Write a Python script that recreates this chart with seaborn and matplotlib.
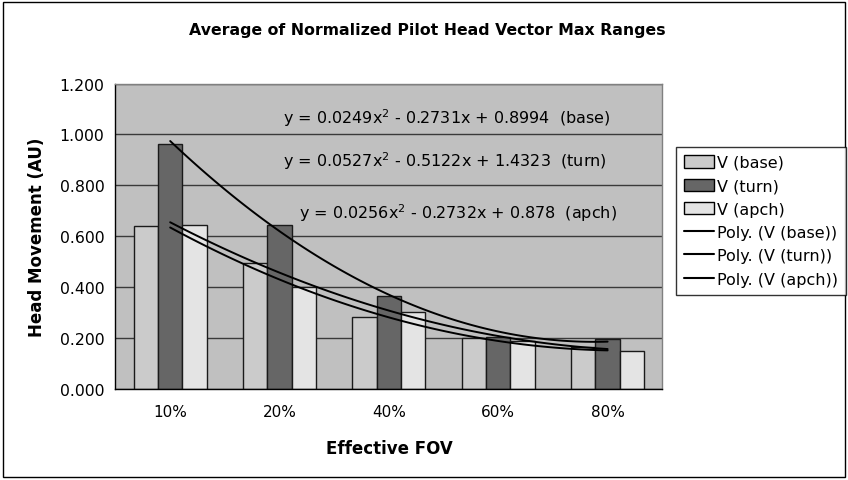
import numpy as np
import pandas as pd
import matplotlib
matplotlib.use("Agg")
import matplotlib.pyplot as plt
import seaborn as sns
from matplotlib.patches import Patch, Rectangle
from matplotlib.lines import Line2D

# ---- data ----
categories = ["10%", "20%", "40%", "60%", "80%"]
series = ["V (base)", "V (turn)", "V (apch)"]
v_base = [0.640, 0.495, 0.284, 0.202, 0.164]
v_turn = [0.962, 0.645, 0.367, 0.205, 0.197]
v_apch = [0.645, 0.402, 0.302, 0.189, 0.148]
y_ticks = [0.0, 0.2, 0.4, 0.6, 0.8, 1.0, 1.2]
equations = [
    r"y = 0.0249x$^2$ - 0.2731x + 0.8994  (base)",
    r"y = 0.0527x$^2$ - 0.5122x + 1.4323  (turn)",
    r"y = 0.0256x$^2$ - 0.2732x + 0.878  (apch)",
]
trend_labels = ["Poly. (V (base))", "Poly. (V (turn))", "Poly. (V (apch))"]

colors = ["#CBCBCB", "#666666", "#E4E4E4"]

sns.set_style("white")
plt.rcParams["font.family"] = ["DejaVu Sans"]
plt.rcParams["mathtext.fontset"] = "dejavusans"
plt.rcParams["text.color"] = "black"
plt.rcParams["axes.labelcolor"] = "black"
plt.rcParams["xtick.color"] = "black"
plt.rcParams["ytick.color"] = "black"

df = pd.DataFrame({
    "FOV": categories * 3,
    "value": v_base + v_turn + v_apch,
    "series": [s for s in series for _ in categories],
})

fig = plt.figure(figsize=(8.48, 4.81), dpi=100)
ax = fig.add_axes([0.1362, 0.1892, 0.6448, 0.6351])
ax.set_facecolor("#C0C0C0")

sns.barplot(data=df, x="FOV", y="value", hue="series", order=categories,
            hue_order=series, palette=colors, width=0.667, gap=0,
            edgecolor="#1a1a1a", linewidth=1.0, ax=ax, legend=False, zorder=2)

xpos = np.arange(len(categories))
for vals in (v_base, v_turn, v_apch):
    sns.regplot(x=xpos, y=np.array(vals), order=2, ci=None, scatter=False,
                color="black", line_kws={"lw": 1.4, "zorder": 4}, ax=ax,
                truncate=True)

ax.set_xlim(-0.5, len(categories) - 0.5)
ax.set_ylim(0, 1.2)
ax.set_yticks(y_ticks)
ax.set_yticklabels([f"{t:.3f}" for t in y_ticks])
ax.yaxis.grid(True, color="#3a3a3a", lw=1.0, zorder=1)
ax.set_axisbelow(True)
ax.set_xticks(xpos)
ax.set_xticklabels(categories)
ax.set_xticks(np.arange(-0.5, len(categories)), minor=True)
ax.tick_params(axis="x", which="major", length=0, pad=11, labelsize=11,
               labelcolor="black")
ax.tick_params(axis="x", which="minor", length=5, width=1, color="black",
               direction="out")
ax.tick_params(axis="y", length=5, width=1, color="black", direction="out",
               labelsize=11.3, pad=3, labelcolor="black")
ax.set_xlabel("Effective FOV", fontsize=12, fontweight="bold", labelpad=14.5,
              color="black")
ax.set_ylabel("Head Movement (AU)", fontsize=12, fontweight="bold", labelpad=10,
              color="black")

for side in ("left", "bottom"):
    ax.spines[side].set_color("black")
    ax.spines[side].set_linewidth(1.0)
for side in ("top", "right"):
    ax.spines[side].set_color("#808080")
    ax.spines[side].set_linewidth(1.0)

# equation labels
eq_pos = [(283, 118), (283, 161), (299, 213)]
for txt, (px, py) in zip(equations, eq_pos):
    fig.text(px / 848, 1 - py / 481, txt, fontsize=11.5, ha="left",
             va="center", color="black")

fig.text(0.504, 1 - 30 / 481, "Average of Normalized Pilot Head Vector Max Ranges",
         ha="center", va="center", fontsize=11.3, fontweight="bold", color="black")

handles = [Patch(facecolor=c, edgecolor="black", lw=1) for c in colors]
handles += [Line2D([], [], color="black", lw=1.5) for _ in trend_labels]
leg = fig.legend(handles, series + trend_labels, loc="upper left",
                 bbox_to_anchor=(676 / 848, 1 - 148 / 481), frameon=True,
                 fancybox=False, edgecolor="black", fontsize=11.5,
                 handlelength=1.9, handleheight=0.8, handletextpad=0.15,
                 labelspacing=0.52, borderpad=0.5, borderaxespad=0)
leg.get_frame().set_linewidth(1.0)
for t in leg.get_texts():
    t.set_color("black")

fig.patches.append(Rectangle((3 / 848, 3 / 481), 842 / 848, 475 / 481,
                             transform=fig.transFigure, fill=False,
                             edgecolor="black", lw=1.0))

fig.savefig("out.png", dpi=100)
